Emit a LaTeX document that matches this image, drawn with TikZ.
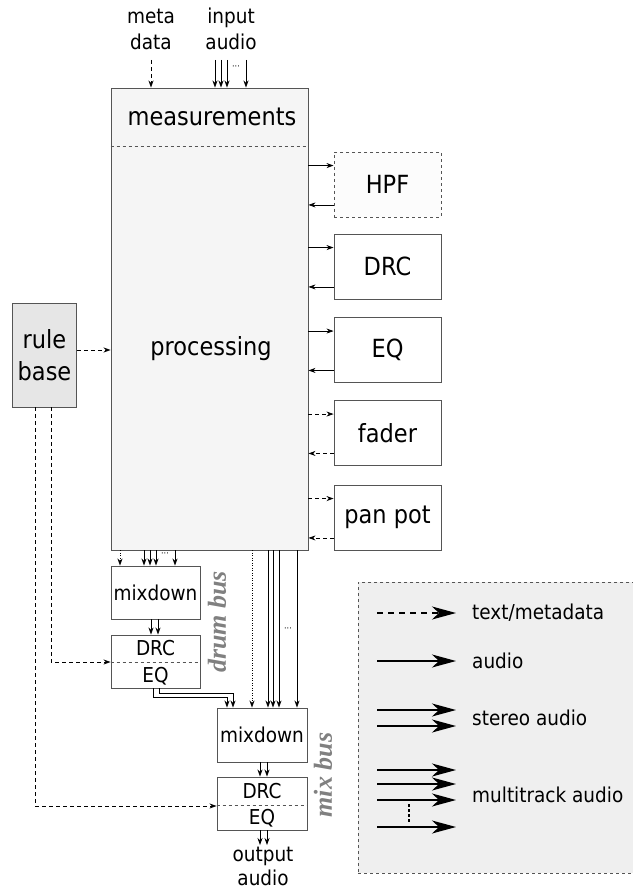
\documentclass[tikz,border=0pt]{standalone}
\usepackage{fontspec}
\setmainfont[FakeStretch=0.9]{DejaVu Sans}
\newfontfamily\busfont{Liberation Serif}
\usetikzlibrary{arrows.meta}
\definecolor{boxline}{HTML}{555555}
\definecolor{mainfill}{HTML}{F5F5F5}
\definecolor{rulefill}{HTML}{E6E6E6}
\definecolor{legfill}{HTML}{EFEFEF}
\definecolor{busgray}{HTML}{808080}
\tikzset{
  box/.style={draw=boxline, line width=0.9pt, inner sep=0pt, fill=white},
  big/.style={font=\fontsize{25}{32}\selectfont},
  small/.style={font=\fontsize{20.5}{26}\selectfont},
  lbl/.style={inner sep=0pt, align=center},
  arr/.style={line width=0.8pt, -{Stealth[length=7pt,width=5pt,inset=2.2pt]}},
  darr/.style={arr, dash pattern=on 4pt off 3pt},
  dotarr/.style={arr, dash pattern=on 1pt off 1.5pt},
  larr/.style={line width=1.5pt, -{Stealth[length=24pt,width=13pt,inset=7pt]}},
  busl/.style={font=\busfont\bfseries\itshape\fontsize{26}{26}\selectfont, text=busgray, rotate=90, inner sep=0pt},
  dots/.style={font=\fontsize{9}{9}\selectfont, inner sep=0pt}
}
\begin{document}
\begin{tikzpicture}[x=1pt,y=-1pt]
\useasboundingbox (0,0) rectangle (632,893);
% legend
\node[draw=boxline, dashed, fill=legfill, line width=0.9pt, minimum width=290pt, minimum height=291pt, inner sep=0pt, anchor=north west] (leg) at (358,582) {};
% main block
\node[box, fill=mainfill, minimum width=197pt, minimum height=462pt] (main) at (209.5,319) {};
\draw[boxline, dashed, line width=0.9pt] (main.west |- 0,146) -- (main.east |- 0,146);
\node[lbl, big] (meas) at (212,117) {measurements};
\node[lbl, big] (proc) at (211,349) {processing};
% top inputs
\node[lbl, small] (meta) at (151,29) {meta\\data};
\node[lbl, small] (inp) at (231,29) {input\\audio};
\coordinate (m0) at (151,60);
\draw[darr] (m0) -- (m0 |- main.north);
\foreach \x in {215,221,227,246} {
  \coordinate (i\x) at (\x,60);
  \draw[arr] (i\x) -- (i\x |- main.north);
}
\node[dots] (idots) at (236,68) {···};
% right boxes
\node[box, dashed, fill=white!98!gray, minimum width=107pt, minimum height=65pt] (hpf) at (387.5,184.5) {};
\node[lbl, big] at (hpf) {HPF};
\node[box, minimum width=107pt, minimum height=65pt] (drc) at (387.5,266.5) {};
\node[lbl, big] at (drc) {DRC};
\node[box, minimum width=107pt, minimum height=65pt] (eq) at (387.5,350) {};
\node[lbl, big] at (eq) {EQ};
\node[box, minimum width=107pt, minimum height=65pt] (fader) at (387.5,433) {};
\node[lbl, big] at (fader) {fader};
\node[box, minimum width=107pt, minimum height=65pt] (pan) at (387.5,517.5) {};
\node[lbl, big] at (pan) {pan pot};
\foreach \n/\s in {hpf/arr, drc/arr, eq/arr, fader/darr, pan/darr} {
  \draw[\s] ([yshift=-14pt]main.east |- \n.north) -- ([yshift=-14pt]\n.north west);
  \draw[\s] ([yshift=12.5pt]\n.south west) -- ([yshift=12.5pt]main.east |- \n.south);
}
% rule base
\node[box, fill=rulefill, minimum width=64pt, minimum height=104pt] (rule) at (44.5,355) {};
\node[lbl, big] at (rule) {rule\\base};
\draw[darr] (rule.east |- 0,350) -- (main.west |- 0,350);
% drum bus
\node[box, minimum width=89pt, minimum height=53pt] (dmix) at (155.5,592.5) {};
\node[lbl, small] at (dmix) {mixdown};
\node[box, minimum width=89pt, minimum height=53pt] (deq) at (155.5,661.5) {};
\draw[boxline, dashed, line width=0.9pt] (deq.west |- 0,662) -- (deq.east |- 0,662);
\node[lbl, small] (ddrc) at (155.5,648) {DRC};
\node[lbl, small] (deqt) at (155.5,676) {EQ};
\node[busl] (dbus) at (217,622) {drum bus};
\draw[dotarr] (main.south -| 120,0) -- (dmix.north -| 120,0);
\foreach \x in {144,150,156,175} {
  \draw[arr] (main.south -| \x,0) -- (dmix.north -| \x,0);
}
\node[dots] (ddots) at (165,555) {···};
\foreach \x in {151,158} {
  \draw[arr] (dmix.south -| \x,0) -- (deq.north -| \x,0);
}
% mix bus
\node[box, minimum width=90pt, minimum height=54pt] (mmix) at (262,735) {};
\node[lbl, small] at (mmix) {mixdown};
\node[box, minimum width=90pt, minimum height=53pt] (meq) at (262,803.5) {};
\draw[boxline, dashed, line width=0.9pt] (meq.west |- 0,805) -- (meq.east |- 0,805);
\node[lbl, small] (mdrc) at (262,791) {DRC};
\node[lbl, small] (meqt) at (262,818) {EQ};
\node[busl] (mbus) at (323,775) {mix bus};
\draw[dotarr] (main.south -| 252,0) -- (mmix.north -| 252,0);
\foreach \x in {268,273,279,297} {
  \draw[arr] (main.south -| \x,0) -- (mmix.north -| \x,0);
}
\node[dots, rotate=0] (mdots) at (288,630) {···};
\draw[arr] (deq.south -| 153,0) -- (153,697) -- (227,697) -- (mmix.north -| 227,0);
\draw[arr] (deq.south -| 159,0) -- (159,693) -- (233,693) -- (mmix.north -| 233,0);
\foreach \x in {260,267} {
  \draw[arr] (mmix.south -| \x,0) -- (meq.north -| \x,0);
}
\node[lbl, small, font=\fontsize{20.5}{24}\selectfont] (out) at (263,866) {output\\audio};
\foreach \x in {260,267} {
  \draw[arr] (meq.south -| \x,0) -- (\x,845);
}
% rule base feeds
\draw[darr] (rule.south -| 51,0) -- (51,662) -- (deq.west |- 0,662);
\draw[darr] (rule.south -| 35,0) -- (35,806) -- (meq.west |- 0,806);
% legend content
\coordinate (la) at (377,613); \coordinate (lb) at (456,613);
\draw[larr, dash pattern=on 6pt off 5pt] (la) -- (lb);
\node[lbl, small, anchor=west] (lt1) at (472,613) {text/metadata};
\coordinate (lc) at (377,661); \coordinate (ld) at (456,661);
\draw[larr] (lc) -- (ld);
\node[lbl, small, anchor=west] (lt2) at (472,661) {audio};
\foreach \y in {710,726} {
  \coordinate (s\y a) at (377,\y); \coordinate (s\y b) at (456,\y);
  \draw[larr] (s\y a) -- (s\y b);
}
\node[lbl, small, anchor=west] (lt3) at (472,718) {stereo audio};
\foreach \y in {770,784,800,827} {
  \coordinate (t\y a) at (377,\y); \coordinate (t\y b) at (456,\y);
  \draw[larr] (t\y a) -- (t\y b);
}
\coordinate (dv1) at (409,804); \coordinate (dv2) at (409,822);
\draw[line width=2.2pt, dash pattern=on 2.5pt off 2.5pt] (dv1) -- (dv2);
\node[lbl, small, anchor=west] (lt4) at (472,795) {multitrack audio};
\end{tikzpicture}
\end{document}
